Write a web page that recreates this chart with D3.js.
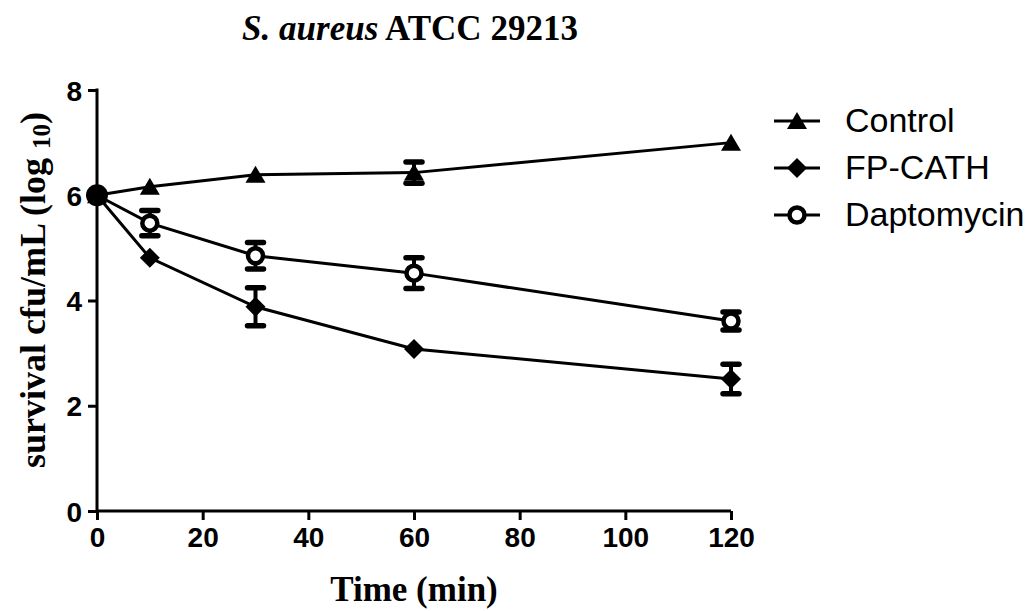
<!DOCTYPE html>
<html>
<head>
<meta charset="utf-8">
<script src="https://cdn.jsdelivr.net/npm/d3@7"></script>
<style>
  body { margin: 0; background: #fff; }
</style>
</head>
<body>
<div id="graph"></div>
<script>
// data
var times = [0, 10, 30, 60, 120];
var seriesNames = ["Control", "FP-CATH", "Daptomycin"];
var controlMean = [6.0, 6.16, 6.39, 6.43, 7.0];
var controlErr = [0, 0, 0, 0.2, 0];
var fpcathMean = [6.0, 4.81, 3.88, 3.08, 2.51];
var fpcathErr = [0, 0, 0.36, 0, 0.28];
var daptoMean = [6.0, 5.47, 4.85, 4.52, 3.61];
var daptoErr = [0, 0.24, 0.25, 0.29, 0.17];
var xTicks = [0, 20, 40, 60, 80, 100, 120];
var yTicks = [0, 2, 4, 6, 8];

var w = 1028, h = 611;
var x0 = 97, x1 = 731, yTop = 90, yBot = 511;

var svg = d3.select("#graph").append("svg")
    .attr("width", w).attr("height", h);

var x = d3.scaleLinear().domain([0, 120]).range([x0, x1]);
var y = d3.scaleLinear().domain([0, 8]).range([yBot, yTop]);

var series = [
    {name: seriesNames[0], mean: controlMean, err: controlErr, shape: "tri"},
    {name: seriesNames[1], mean: fpcathMean, err: fpcathErr, shape: "dia"},
    {name: seriesNames[2], mean: daptoMean, err: daptoErr, shape: "circ"}
];

// axes
var xAxis = d3.axisBottom(x).tickValues(xTicks).tickSize(9).tickPadding(7);
var yAxis = d3.axisLeft(y).tickValues(yTicks).tickSize(9).tickPadding(6);

var gx = svg.append("g").attr("transform", "translate(0," + yBot + ")").call(xAxis);
var gy = svg.append("g").attr("transform", "translate(" + x0 + ",0)").call(yAxis);

[gx, gy].forEach(function(g) {
    g.select(".domain").remove();
    g.selectAll("line").attr("stroke", "#000").attr("stroke-width", 3);
    g.selectAll("text")
        .attr("fill", "#000")
        .style("font-family", "Liberation Sans, Arial, sans-serif")
        .style("font-weight", "bold")
        .style("font-size", "28px");
});
gy.selectAll("text").attr("dy", "0.36em");

svg.append("line").attr("x1", x0).attr("x2", x1).attr("y1", yBot).attr("y2", yBot)
    .attr("stroke", "#000").attr("stroke-width", 3);
svg.append("line").attr("x1", x0).attr("x2", x0).attr("y1", yTop - 1.5).attr("y2", yBot)
    .attr("stroke", "#000").attr("stroke-width", 3);

// lines
var line = d3.line()
    .x(function(d, i) { return x(times[i]); })
    .y(function(d) { return y(d); });

series.forEach(function(s) {
    svg.append("path")
        .datum(s.mean)
        .attr("d", line)
        .attr("fill", "none")
        .attr("stroke", "#000")
        .attr("stroke-width", 3);
});

// error bars
series.forEach(function(s) {
    var eb = svg.append("g");
    s.mean.forEach(function(m, i) {
        var e = s.err[i];
        if (!e) return;
        var cx = x(times[i]);
        eb.append("line").attr("x1", cx).attr("x2", cx)
            .attr("y1", y(m + e)).attr("y2", y(m - e))
            .attr("stroke", "#000").attr("stroke-width", 4);
        [m + e, m - e].forEach(function(v) {
            eb.append("line").attr("x1", cx - 8).attr("x2", cx + 8)
                .attr("y1", y(v)).attr("y2", y(v))
                .attr("stroke", "#000").attr("stroke-width", 5.5)
                .attr("stroke-linecap", "round");
        });
    });
});

function marker(g, shape, cx, cy) {
    if (shape == "tri") {
        g.append("path")
            .attr("d", "M" + cx + "," + (cy - 9) + "L" + (cx + 10) + "," + (cy + 8) + "L" + (cx - 10) + "," + (cy + 8) + "Z")
            .attr("fill", "#000");
    } else if (shape == "dia") {
        g.append("path")
            .attr("d", "M" + cx + "," + (cy - 10) + "L" + (cx + 10) + "," + cy + "L" + cx + "," + (cy + 10) + "L" + (cx - 10) + "," + cy + "Z")
            .attr("fill", "#000");
    } else {
        g.append("circle").attr("cx", cx).attr("cy", cy).attr("r", 7.5)
            .attr("fill", "#fff").attr("stroke", "#000").attr("stroke-width", 4.5);
    }
}

// markers
series.forEach(function(s) {
    var mg = svg.append("g");
    s.mean.forEach(function(m, i) {
        marker(mg, s.shape, x(times[i]), y(m));
    });
});
// overlapping start point draws as a solid dot
svg.append("circle").attr("cx", x(0)).attr("cy", y(6)).attr("r", 11).attr("fill", "#000");

// legend
var legend = svg.append("g");
series.forEach(function(s, i) {
    var ly = 121 + i * 47;
    legend.append("line").attr("x1", 774).attr("x2", 820).attr("y1", ly).attr("y2", ly)
        .attr("stroke", "#000").attr("stroke-width", 3);
    marker(legend, s.shape, 797, ly);
    legend.append("text").attr("x", 845).attr("y", ly + 11)
        .text(s.name)
        .style("font-family", "Liberation Sans, Arial, sans-serif")
        .style("font-size", "34px");
});

// title
var title = svg.append("text").attr("x", 410).attr("y", 40)
    .attr("text-anchor", "middle")
    .style("font-family", "Liberation Serif, Times New Roman, serif")
    .style("font-weight", "bold")
    .style("font-size", "35px");
title.append("tspan").style("font-style", "italic").text("S. aureus");
title.append("tspan").text(" ATCC 29213");

// axis titles
svg.append("text").attr("x", 414).attr("y", 601)
    .attr("text-anchor", "middle")
    .style("font-family", "Liberation Serif, Times New Roman, serif")
    .style("font-weight", "bold")
    .style("font-size", "35px")
    .text("Time (min)");

var yl = svg.append("text")
    .attr("transform", "translate(45,290) rotate(-90)")
    .attr("text-anchor", "middle")
    .style("font-family", "Liberation Serif, Times New Roman, serif")
    .style("font-weight", "bold")
    .style("font-size", "36px");
yl.append("tspan").text("survival cfu/mL (log ");
yl.append("tspan").attr("dy", 5).style("font-size", "25px").text("10");
yl.append("tspan").attr("dy", -5).text(")");
</script>
</body>
</html>
